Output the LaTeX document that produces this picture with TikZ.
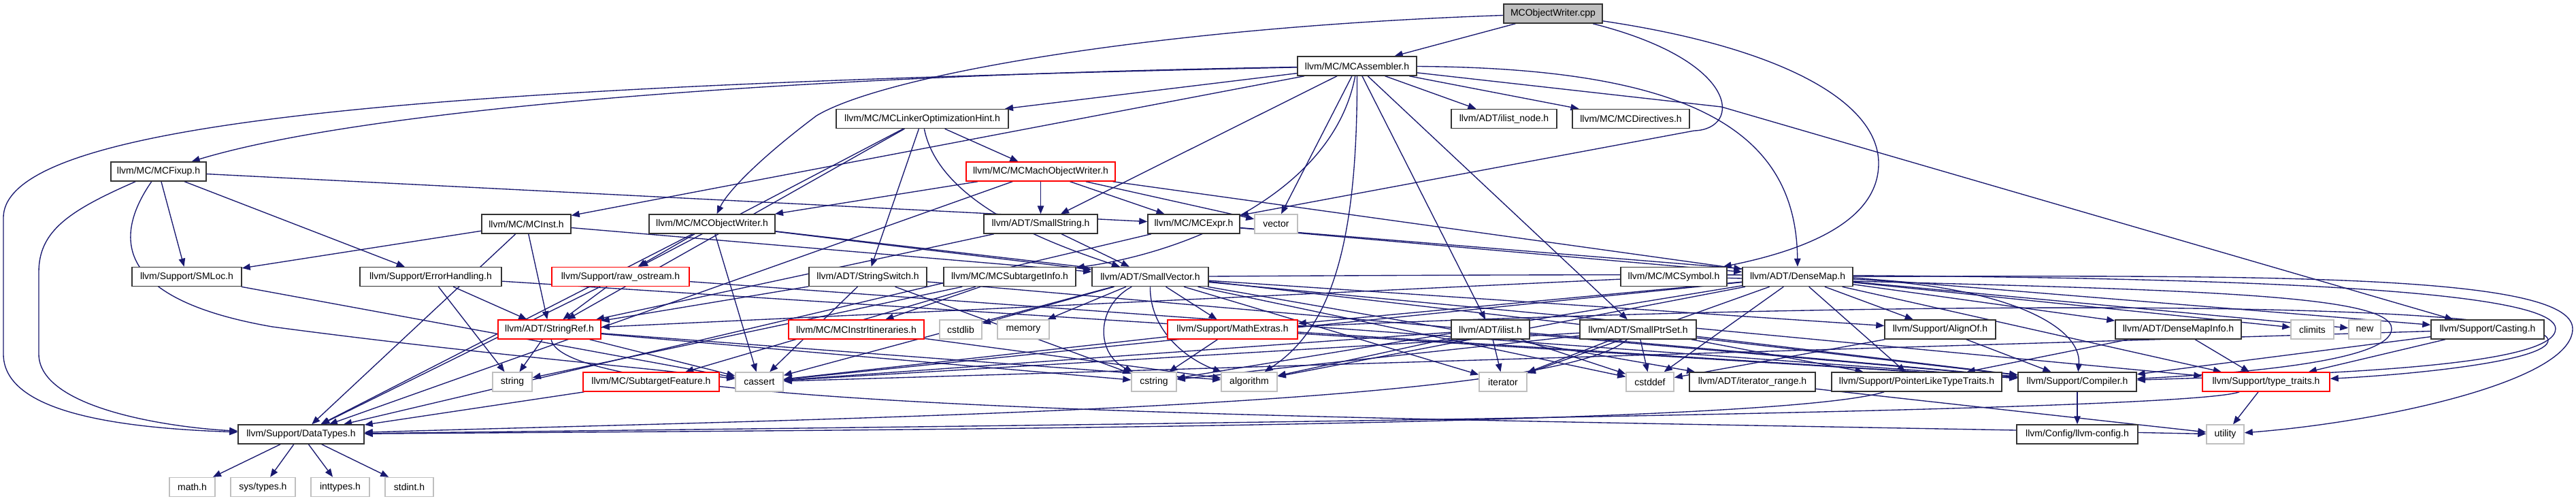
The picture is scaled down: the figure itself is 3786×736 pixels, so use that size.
\documentclass[tikz,border=0pt]{standalone}
\usepackage{fontspec}
\setmainfont{Liberation Sans}
\usetikzlibrary{arrows.meta,backgrounds}
\definecolor{edgec}{HTML}{191970}
\definecolor{sysc}{HTML}{BFBFBF}
\definecolor{rootc}{HTML}{BFBFBF}
\definecolor{truncc}{HTML}{FF0000}
\definecolor{boxc}{HTML}{333333}
\tikzset{
 nb/.style={draw=boxc, line width=1.5pt, fill=white, inner sep=0pt, minimum height=28pt},
 nr/.style={nb, draw=truncc},
 ng/.style={nb, draw=sysc},
 nroot/.style={nb, fill=rootc},
 dep/.style={draw=edgec, line width=1.35pt, -{Triangle[length=12pt,width=9.5pt]}},
}
\begin{document}
\begin{tikzpicture}[x=1pt,y=-1pt,font=\fontsize{14}{16}\selectfont]
\useasboundingbox (0,0) rectangle (3786,736);
% row 0
\node[nroot,minimum width=145pt] (cpp) at (2282.5,20) {MCObjectWriter.cpp};
% row 1
\node[nb,minimum width=175pt] (asm) at (1994.5,97) {llvm/MC/MCAssembler.h};
% row 2
\node[nb,minimum width=253pt] (loh) at (1355.5,174.5) {llvm/MC/MCLinkerOptimizationHint.h};
\node[nb,minimum width=155pt] (ilnode) at (2210.5,174.5) {llvm/ADT/ilist\_node.h};
\node[nb,minimum width=172pt] (mcdir) at (2397,174.5) {llvm/MC/MCDirectives.h};
% row 3
\node[nb,minimum width=140pt] (fixup) at (233,252) {llvm/MC/MCFixup.h};
\node[nr,minimum width=219pt] (macho) at (1529.5,252) {llvm/MC/MCMachObjectWriter.h};
% row 4
\node[nb,minimum width=131pt] (inst) at (773.5,329) {llvm/MC/MCInst.h};
\node[nb,minimum width=185pt] (objw) at (1046.5,329) {llvm/MC/MCObjectWriter.h};
\node[nb,minimum width=167pt] (sstr) at (1529.5,329) {llvm/ADT/SmallString.h};
\node[nb,minimum width=135pt] (expr) at (1754.5,329) {llvm/MC/MCExpr.h};
\node[ng,minimum width=63pt] (vec) at (1875.5,329) {vector};
% row 5
\node[nb,minimum width=161pt] (smloc) at (274.5,406.5) {llvm/Support/SMLoc.h};
\node[nb,minimum width=208pt] (errh) at (633,406.5) {llvm/Support/ErrorHandling.h};
\node[nr,minimum width=202pt] (rawos) at (912,406.5) {llvm/Support/raw\_ostream.h};
\node[nb,minimum width=173pt] (sswitch) at (1275.5,406.5) {llvm/ADT/StringSwitch.h};
\node[nb,minimum width=194pt] (sti) at (1484,406.5) {llvm/MC/MCSubtargetInfo.h};
\node[nb,minimum width=171pt] (svec) at (1690.5,406.5) {llvm/ADT/SmallVector.h};
\node[nb,minimum width=156pt] (sym) at (2460,406.5) {llvm/MC/MCSymbol.h};
\node[nb,minimum width=162pt] (dmap) at (2642,406.5) {llvm/ADT/DenseMap.h};
% row 6
\node[nr,minimum width=151pt] (sref) at (807.5,484) {llvm/ADT/StringRef.h};
\node[nr,minimum width=199pt] (itin) at (1258.5,484) {llvm/MC/MCInstrItineraries.h};
\node[ng,minimum width=62pt] (cstdlib) at (1412,484) {cstdlib};
\node[ng,minimum width=76pt] (memory) at (1504,484) {memory};
\node[nr,minimum width=191pt] (mathx) at (1811.5,484) {llvm/Support/MathExtras.h};
\node[nb,minimum width=115pt] (ilist) at (2190.5,484) {llvm/ADT/ilist.h};
\node[nb,minimum width=171pt] (sptr) at (2407.5,484) {llvm/ADT/SmallPtrSet.h};
\node[nb,minimum width=163pt] (alignof) at (2851.5,484) {llvm/Support/AlignOf.h};
\node[nb,minimum width=185pt] (dmi) at (3201.5,484) {llvm/ADT/DenseMapInfo.h};
\node[ng,minimum width=63pt] (climits) at (3398.5,484) {climits};
\node[ng,minimum width=47pt] (newh) at (3475.5,484) {new};
\node[nb,minimum width=166pt] (casting) at (3656,484) {llvm/Support/Casting.h};
% row 7
\node[ng,minimum width=58pt] (string) at (753,561) {string};
\node[nr,minimum width=200pt] (stfeat) at (957,561) {llvm/MC/SubtargetFeature.h};
\node[ng,minimum width=70pt] (cassert) at (1116,561) {cassert};
\node[ng,minimum width=66pt] (cstring) at (1696,561) {cstring};
\node[ng,minimum width=82pt] (algo) at (1836,561) {algorithm};
\node[ng,minimum width=70pt] (iter) at (2209,561) {iterator};
\node[ng,minimum width=70pt] (cstddef) at (2425,561) {cstddef};
\node[nb,minimum width=185pt] (itrange) at (2575.5,561) {llvm/ADT/iterator\_range.h};
\node[nb,minimum width=250pt] (pltt) at (2817,561) {llvm/Support/PointerLikeTypeTraits.h};
\node[nb,minimum width=174pt] (compiler) at (3053,561) {llvm/Support/Compiler.h};
\node[nr,minimum width=187pt] (ttraits) at (3330.5,561) {llvm/Support/type\_traits.h};
% row 8
\node[nb,minimum width=185pt] (dtypes) at (442.5,638) {llvm/Support/DataTypes.h};
\node[nb,minimum width=178pt] (llvmcfg) at (3053,638) {llvm/Config/llvm-config.h};
\node[ng,minimum width=55pt] (utility) at (3270.5,638) {utility};
% row 9
\node[ng,minimum width=67pt] (math) at (282.5,715.5) {math.h};
\node[ng,minimum width=95pt] (systypes) at (386.5,715.5) {sys/types.h};
\node[ng,minimum width=86pt] (inttypes) at (500,715.5) {inttypes.h};
\node[ng,minimum width=71pt] (stdint) at (601.5,715.5) {stdint.h};

\begin{scope}[on background layer]
\fill[white] (0,0) rectangle (3786,736);
% cpp
\draw[dep] (cpp) -- (asm);
\draw[dep] (cpp) .. controls (1700,40) and (1300,110) .. (1200,170) .. controls (1120,230) and (1070,280) .. (objw);
\draw[dep] (cpp) .. controls (2560,90) and (2560,190) .. (2490,192) -- (expr);
\draw[dep] (cpp) .. controls (2620,70) and (2761,150) .. (2761,240) .. controls (2761,330) and (2640,370) .. (sym);
% asm
\draw[dep] (asm) .. controls (700,125) and (5,170) .. (5,320) -- (5,520) .. controls (5,600) and (150,628) .. (dtypes);
\draw[dep] (asm) .. controls (1100,112) and (520,165) .. (fixup);
\draw[dep] (asm) -- (loh);
\draw[dep] (asm) -- (inst);
\draw[dep] (asm) -- (sstr);
\draw[dep] (asm) -- (vec);
\draw[dep] (asm) .. controls (1960,280) and (1750,370) .. (sti);
\draw[dep] (asm) -- (ilnode);
\draw[dep] (asm) -- (mcdir);
\draw[dep] (asm) -- (ilist);
\draw[dep] (asm) -- (sptr);
\draw[dep] (asm) .. controls (1995,350) and (1960,480) .. (algo);
\draw[dep] (asm) .. controls (2500,100) and (2640,200) .. (dmap);
\draw[dep] (asm) -- (2530,157) -- (casting);
% loh
\draw[dep] (loh) -- (macho);
\draw[dep] (loh) -- (sref);
\draw[dep] (loh) -- (rawos);
\draw[dep] (loh) -- (sswitch);
\draw[dep] (loh) .. controls (1380,300) and (1550,360) .. (svec);
% fixup
\draw[dep] (fixup) -- (expr);
\draw[dep] (fixup) .. controls (100,310) and (57,340) .. (57,400) -- (57,520) .. controls (57,600) and (250,628) .. (dtypes);
\draw[dep] (fixup) -- (errh);
\draw[dep] (fixup) -- (smloc);
\draw[dep] (fixup) .. controls (165,350) and (170,440) .. (400,480) .. controls (700,520) and (950,540) .. (cassert);
% macho
\draw[dep] (macho) -- (objw);
\draw[dep] (macho) -- (sstr);
\draw[dep] (macho) -- (expr);
\draw[dep] (macho) -- (vec);
\draw[dep] (macho) -- (dmap);
\draw[dep] (macho) -- (dtypes);
% inst
\draw[dep] (inst) -- (svec);
\draw[dep] (inst) -- (sref);
\draw[dep] (inst) -- (dtypes);
\draw[dep] (inst) -- (smloc);
% objw
\draw[dep] (objw) -- (svec);
\draw[dep] (objw) -- (compiler);
\draw[dep] (objw) -- (dtypes);
\draw[dep] (objw) -- (rawos);
\draw[dep] (objw) -- (cassert);
% sstr
\draw[dep] (sstr) -- (svec);
\draw[dep] (sstr) -- (sref);
% expr
\draw[dep] (expr) -- (dmap);
\draw[dep] (expr) -- (casting);
\draw[dep] (expr) -- (dtypes);
% smloc
\draw[dep] (smloc) -- (cassert);
% errh
\draw[dep] (errh) -- (sref);
\draw[dep] (errh) -- (compiler);
\draw[dep] (errh) -- (string);
% rawos
\draw[dep] (rawos) -- (sref);
\draw[dep] (rawos) -- (compiler);
\draw[dep] (rawos) -- (dtypes);
% sswitch
\draw[dep] (sswitch) -- (sref);
\draw[dep] (sswitch) -- (compiler);
\draw[dep] (sswitch) -- (cassert);
\draw[dep] (sswitch) -- (cstring);
% sti
\draw[dep] (sti) -- (itin);
\draw[dep] (sti) -- (stfeat);
\draw[dep] (sti) -- (string);
% svec
\draw[dep] (svec) -- (itrange);
\draw[dep] (svec) -- (alignof);
\draw[dep] (svec) .. controls (2800,400) and (3756,400) .. (3756,483) .. controls (3756,540) and (3400,550) .. (compiler);
\draw[dep] (svec) -- (mathx);
\draw[dep] (svec) -- (ttraits);
\draw[dep] (svec) .. controls (1690,490) and (1750,530) .. (algo);
\draw[dep] (svec) -- (cassert);
\draw[dep] (svec) -- (cstddef);
\draw[dep] (svec) -- (cstdlib);
\draw[dep] (svec) .. controls (1610,450) and (1610,520) .. (cstring);
\draw[dep] (svec) -- (iter);
\draw[dep] (svec) -- (memory);
% sym
\draw[dep] (sym) -- (sref);
\draw[dep] (sym) .. controls (3200,425) and (3515,430) .. (3515,483) .. controls (3515,530) and (3300,548) .. (compiler);
% dmap
\draw[dep] (dmap) -- (dmi);
\draw[dep] (dmap) -- (alignof);
\draw[dep] (dmap) .. controls (2950,420) and (3060,480) .. (compiler);
\draw[dep] (dmap) -- (mathx);
\draw[dep] (dmap) -- (pltt);
\draw[dep] (dmap) -- (ttraits);
\draw[dep] (dmap) -- (algo);
\draw[dep] (dmap) -- (cassert);
\draw[dep] (dmap) -- (climits);
\draw[dep] (dmap) -- (cstddef);
\draw[dep] (dmap) -- (cstring);
\draw[dep] (dmap) -- (iter);
\draw[dep] (dmap) -- (newh);
\draw[dep] (dmap) .. controls (3300,405) and (3781,400) .. (3781,483) .. controls (3781,560) and (3500,620) .. (utility);
% sref
\draw[dep] (sref) -- (string);
\draw[dep] (sref) -- (cassert);
\draw[dep] (sref) -- (cstring);
\draw[dep] (sref) -- (algo);
\draw[dep] (sref) .. controls (830,610) and (2000,612) .. (utility);
% itin
\draw[dep] (itin) -- (algo);
% mathx
\draw[dep] (mathx) -- (compiler);
\draw[dep] (mathx) .. controls (2800,440) and (3745,440) .. (3745,500) .. controls (3745,530) and (3550,550) .. (ttraits);
\draw[dep] (mathx) -- (cstring);
\draw[dep] (mathx) -- (cassert);
% ilist
\draw[dep] (ilist) -- (compiler);
\draw[dep] (ilist) -- (algo);
\draw[dep] (ilist) -- (cassert);
\draw[dep] (ilist) -- (cstddef);
\draw[dep] (ilist) -- (iter);
% sptr
\draw[dep] (sptr) -- (compiler);
\draw[dep] (sptr) .. controls (2280,600) and (1200,615) .. (dtypes);
\draw[dep] (sptr) -- (pltt);
\draw[dep] (sptr) -- (cassert);
\draw[dep] (sptr) -- (cstddef);
\draw[dep] (sptr) -- (cstring);
\draw[dep] (sptr) -- (iter);
% alignof
\draw[dep] (alignof) -- (compiler);
\draw[dep] (alignof) -- (cstddef);
% dmi
\draw[dep] (dmi) -- (pltt);
\draw[dep] (dmi) -- (ttraits);
% casting
\draw[dep] (casting) -- (compiler);
\draw[dep] (casting) -- (ttraits);
\draw[dep] (casting) -- (cassert);
% misc
\draw[dep] (itrange) -- (utility);
\draw[dep] (pltt) .. controls (2600,628) and (1200,632) .. (dtypes);
\draw[dep] (compiler) -- (llvmcfg);
\draw[dep] (ttraits) .. controls (3200,610) and (1200,628) .. (dtypes);
\draw[dep] (ttraits) -- (utility);
\draw[dep] (stfeat) -- (dtypes);
\draw[dep] (dtypes) -- (math);
\draw[dep] (dtypes) -- (systypes);
\draw[dep] (dtypes) -- (inttypes);
\draw[dep] (dtypes) -- (stdint);
\end{scope}
\end{tikzpicture}
\end{document}
